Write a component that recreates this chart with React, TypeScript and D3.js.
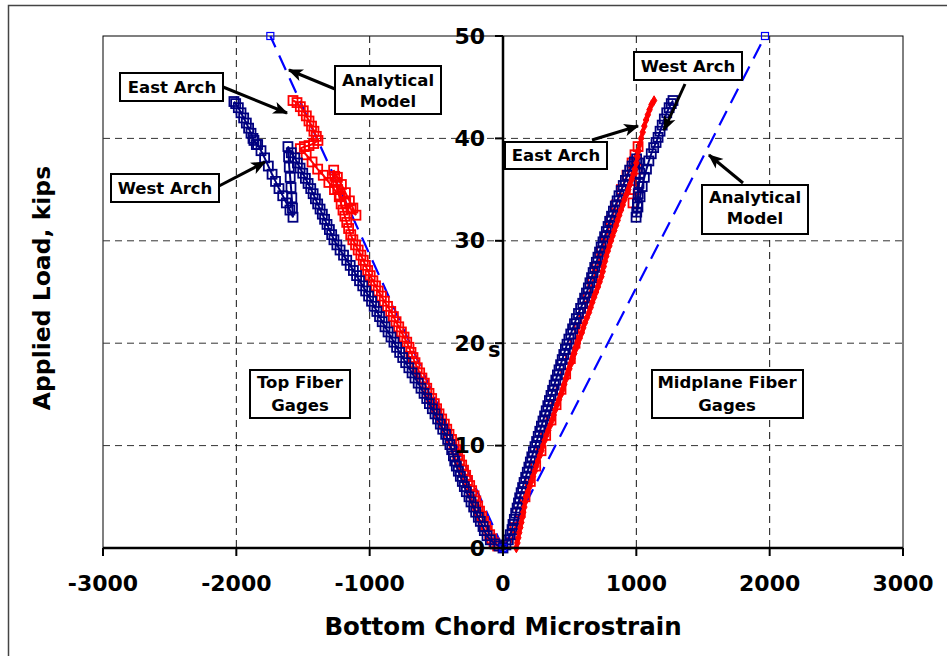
import React from "react";
import * as d3 from "d3";

// ---------- DATA ----------
const xTicks = [-3000, -2000, -1000, 0, 1000, 2000, 3000];
const yTicks = [0, 10, 20, 30, 40, 50];
const xGrid = [-2000, -1000, 1000, 2000];
const yGrid = [10, 20, 30, 40];

// Analytical model lines [microstrain, kips]
const analyticalTop: [number, number][] = [[0, 0], [-1745, 50]];
const analyticalMid: [number, number][] = [[0, 0], [1965, 50]];

// Top fiber gages - West Arch (navy)
const topWest: [number, number][] = [
  [-30,0.2],[-60,0.4],[-95,0.8],[-120,1.2],[-140,1.7],[-150,2.1],[-170,2.6],[-185,3.0],[-205,3.5],[-220,4.0],
  [-240,4.5],[-255,5.0],[-275,5.5],[-290,6.0],[-305,6.5],[-320,7.0],[-335,7.5],[-350,8.0],[-362,8.5],[-372,9.0],
  [-385,9.6],[-398,10.1],[-415,10.6],[-430,11.1],[-452,11.6],[-470,12.1],[-490,12.6],[-510,13.1],[-530,13.6],[-552,14.1],
  [-572,14.6],[-592,15.1],[-615,15.6],[-636,16.1],[-660,16.6],[-682,17.1],[-706,17.6],[-730,18.1],[-752,18.6],[-775,19.1],
  [-798,19.6],[-818,20.1],[-840,20.6],[-862,21.1],[-885,21.6],[-906,22.1],[-926,22.6],[-946,23.1],[-966,23.6],[-986,24.1],
  [-1008,24.6],[-1030,25.1],[-1052,25.6],[-1076,26.1],[-1098,26.6],[-1122,27.1],[-1146,27.6],[-1172,28.1],[-1196,28.6],[-1222,29.1],
  [-1246,29.6],[-1268,30.1],[-1285,30.6],[-1302,31.1],[-1320,31.6],[-1338,32.1],[-1355,32.6],[-1372,33.1],[-1390,33.6],[-1407,34.1],
  [-1424,34.6],[-1442,35.1],[-1462,35.6],[-1482,36.1],[-1502,36.6],[-1522,37.1],[-1542,37.6],[-1562,38.1],[-1588,38.6],[-1613,39.2],
  [-1608,38.2],[-1603,37.2],[-1596,36.2],[-1590,35.2],[-1584,34.2],[-1579,33.2],[-1575,32.3],[-1598,33.0],[-1625,33.7],[-1652,34.4],
  [-1680,35.1],[-1706,35.8],[-1732,36.5],[-1760,37.3],[-1788,38.1],[-1815,38.8],[-1840,39.4],[-1868,39.8],[-1850,39.4],[-1875,40.0],
  [-1890,40.5],[-1908,41.0],[-1925,41.5],[-1945,42.0],[-1965,42.5],[-1985,43.0],[-2005,43.4],[-2018,43.6],
];

// Top fiber gages - East Arch (red)
const topEast: [number, number][] = [
  [-40,0.2],[-67,0.5],[-85,0.9],[-100,1.3],[-118,1.7],[-130,2.1],[-146,2.6],[-160,3.1],[-176,3.6],[-190,4.1],
  [-204,4.6],[-217,5.1],[-235,5.6],[-250,6.1],[-266,6.6],[-280,7.1],[-296,7.6],[-310,8.1],[-326,8.6],[-340,9.1],
  [-354,9.6],[-367,10.1],[-386,10.6],[-405,11.1],[-422,11.6],[-440,12.1],[-460,12.6],[-480,13.1],[-498,13.6],[-515,14.1],
  [-535,14.6],[-555,15.1],[-572,15.6],[-590,16.1],[-608,16.6],[-625,17.1],[-643,17.6],[-660,18.1],[-675,18.6],[-690,19.1],
  [-705,19.6],[-722,20.1],[-742,20.6],[-762,21.1],[-782,21.6],[-802,22.1],[-822,22.6],[-842,23.1],[-866,23.6],[-890,24.1],
  [-912,24.6],[-936,25.1],[-956,25.6],[-976,26.1],[-996,26.6],[-1015,27.1],[-1032,27.6],[-1048,28.1],[-1066,28.6],[-1086,29.1],
  [-1106,29.6],[-1126,30.1],[-1142,30.6],[-1158,31.2],[-1172,31.8],[-1186,32.4],[-1200,33.0],[-1214,33.6],[-1228,34.3],[-1240,35.0],
  [-1252,35.7],[-1262,36.3],[-1270,36.9],[-1242,36.2],[-1212,35.5],[-1182,34.7],[-1152,33.9],[-1126,33.2],[-1103,32.5],[-1140,33.1],
  [-1180,33.7],[-1222,34.4],[-1264,35.0],[-1306,35.7],[-1348,36.4],[-1390,37.0],[-1432,37.7],[-1476,38.4],[-1520,39.0],[-1490,39.2],
  [-1455,39.3],[-1420,39.5],[-1388,39.8],[-1400,40.2],[-1418,40.7],[-1436,41.2],[-1455,41.7],[-1475,42.2],[-1498,42.7],[-1520,43.1],
  [-1545,43.5],[-1575,43.7],
];

// Midplane fiber gages - West Arch (navy)
const midWest: [number, number][] = [
  [0,0],[22,0.3],[40,0.8],[55,1.3],[68,1.8],[75,2.3],[85,2.8],[95,3.4],[106,3.9],[116,4.4],
  [125,4.9],[136,5.4],[147,5.9],[158,6.4],[170,6.9],[182,7.4],[194,7.9],[205,8.4],[216,8.9],[228,9.4],
  [240,9.9],[252,10.4],[264,10.9],[276,11.4],[288,11.9],[300,12.4],[312,12.9],[324,13.4],[336,13.9],[348,14.4],
  [360,14.9],[372,15.4],[384,15.9],[396,16.4],[408,16.9],[420,17.4],[432,17.9],[444,18.4],[456,18.9],[468,19.4],
  [480,19.9],[494,20.4],[508,20.9],[522,21.4],[536,21.9],[550,22.4],[566,22.9],[582,23.4],[598,23.9],[612,24.4],
  [626,24.9],[640,25.4],[652,25.9],[664,26.4],[676,26.9],[688,27.4],[700,27.9],[712,28.4],[724,28.9],[736,29.4],
  [750,29.9],[762,30.4],[775,30.9],[788,31.4],[800,31.9],[814,32.4],[828,32.9],[842,33.4],[856,33.9],[870,34.4],
  [886,34.9],[902,35.4],[918,35.9],[934,36.4],[950,36.9],[968,37.3],[985,37.7],[1002,38.0],[1018,37.6],[1025,36.6],
  [1020,35.6],[1014,34.6],[1008,33.6],[1003,32.8],[998,32.3],[1012,33.3],[1028,34.3],[1044,35.3],[1060,36.2],[1076,37.0],
  [1094,37.8],[1112,38.5],[1130,39.1],[1148,39.6],[1163,40.1],[1178,40.7],[1194,41.3],[1210,41.9],[1228,42.5],[1246,43.0],
  [1262,43.4],[1275,43.7],
];

// Midplane fiber gages - East Arch, square-marker gage (red)
const midEastSq: [number, number][] = [
  [60,0.5],[90,2.0],[130,3.5],[165,5.0],[205,6.5],[245,8.0],[285,9.5],[320,11.0],[360,12.5],[398,14.0],
  [435,15.5],[470,17.0],[505,18.5],[540,20.0],[572,21.5],[606,23.0],[640,24.5],[672,26.0],[706,27.5],[740,29.0],
  [776,30.5],[812,32.0],[850,33.5],[888,35.0],[930,36.4],[968,37.6],[990,38.4],[1013,39.2],[1005,37.0],[985,35.0],
  [975,33.7],
];

// Midplane fiber gages - East Arch, diamond-marker gage (red)
const midEast: [number, number][] = [
  [100,0],[108,0.5],[115,1.0],[122,1.5],[130,2.0],[138,2.5],[145,3.0],[152,3.5],[160,4.0],[166,4.5],
  [172,5.0],[186,5.5],[200,6.0],[212,6.5],[225,7.0],[238,7.5],[250,8.0],[262,8.5],[275,9.0],[288,9.5],
  [300,10.0],[312,10.5],[325,11.0],[340,11.5],[355,12.0],[368,12.5],[380,13.0],[392,13.5],[405,14.0],[420,14.5],
  [435,15.0],[448,15.5],[460,16.0],[472,16.5],[485,17.0],[498,17.5],[510,18.0],[522,18.5],[535,19.0],[548,19.5],
  [562,20.0],[576,20.5],[590,21.0],[602,21.5],[615,22.0],[630,22.5],[645,23.0],[658,23.5],[670,24.0],[684,24.5],
  [698,25.0],[712,25.5],[725,26.0],[738,26.5],[748,27.0],[756,27.5],[765,28.0],[775,28.5],[786,29.0],[798,29.5],
  [810,30.0],[822,30.5],[835,31.0],[848,31.5],[860,32.0],[872,32.5],[885,33.0],[898,33.5],[910,34.0],[925,34.5],
  [940,35.0],[952,35.5],[965,36.0],[978,36.5],[990,37.0],[1000,37.6],[1008,38.2],[1016,38.8],[1025,39.4],[1036,40.0],
  [1048,40.6],[1060,41.2],[1073,41.8],[1086,42.3],[1099,42.8],[1114,43.3],[1133,43.7],
];

// ---------- LAYOUT ----------
const W = 947;
const H = 656;
const x = d3.scaleLinear().domain([-3000, 3000]).range([103, 903]);
const y = d3.scaleLinear().domain([0, 50]).range([548, 36]);

const NAVY = "#000080";
const RED = "#FF0000";
const BLUE = "#0000FF";
const FONT = "'DejaVu Sans', Verdana, sans-serif";

const line = d3
  .line<[number, number]>()
  .x((d) => x(d[0]))
  .y((d) => y(d[1]));

type Box = { cx: number; x0: number; y0: number; x1: number; y1: number; lines: string[]; ly: number[] };
const boxes: Box[] = [
  { cx: 172, x0: 120, y0: 73, x1: 223, y1: 101, lines: ["East Arch"], ly: [87] },
  { cx: 388, x0: 335, y0: 66, x1: 441, y1: 114, lines: ["Analytical", "Model"], ly: [80, 101] },
  { cx: 165, x0: 111, y0: 174, x1: 219, y1: 202, lines: ["West Arch"], ly: [188] },
  { cx: 688, x0: 634, y0: 52, x1: 742, y1: 80, lines: ["West Arch"], ly: [66] },
  { cx: 556, x0: 505, y0: 142, x1: 607, y1: 169, lines: ["East Arch"], ly: [155] },
  { cx: 755, x0: 702, y0: 185, x1: 808, y1: 234, lines: ["Analytical", "Model"], ly: [197, 218] },
  { cx: 300, x0: 250, y0: 370, x1: 350, y1: 418, lines: ["Top Fiber", "Gages"], ly: [382, 405] },
  { cx: 727, x0: 652, y0: 370, x1: 803, y1: 418, lines: ["Midplane Fiber", "Gages"], ly: [382, 405] },
];

const arrows: [number, number, number, number][] = [
  [223, 87, 287, 113],
  [335, 89, 289, 70],
  [219, 186, 265, 162],
  [685, 84, 664, 130],
  [592, 140, 638, 126],
  [743, 183, 709, 155],
];

function Squares({ data, color, size = 9 }: { data: [number, number][]; color: string; size?: number }) {
  return (
    <g>
      {data.map((d, i) => (
        <rect
          key={i}
          x={x(d[0]) - size / 2}
          y={y(d[1]) - size / 2}
          width={size}
          height={size}
          fill="none"
          stroke={color}
          strokeWidth={1.8}
        />
      ))}
    </g>
  );
}

function Diamonds({ data, color }: { data: [number, number][]; color: string }) {
  const sym = d3.symbol().type(d3.symbolDiamond).size(26)();
  return (
    <g>
      {data.map((d, i) => (
        <path key={i} d={sym || ""} transform={`translate(${x(d[0])},${y(d[1])})`} fill={color} stroke={color} strokeWidth={1} />
      ))}
    </g>
  );
}

export default function App() {
  return (
    <svg
      width={W}
      height={H}
      style={{ position: "absolute", left: 0, top: 0, background: "#fff" }}
      fontFamily={FONT}
    >
      <defs>
        <marker id="arr" viewBox="0 0 12 10" refX="11" refY="5" markerWidth="5" markerHeight="4.5" orient="auto" markerUnits="strokeWidth">
          <path d="M0,0 L12,5 L0,10 L3,5 z" fill="#000" />
        </marker>
      </defs>
      {/* outer frame */}
      <rect x={8.5} y={5.5} width={1100} height={800} fill="#fff" stroke="#444" strokeWidth={1.5} />

      {/* plot area */}
      <rect x={103} y={36} width={800} height={512} fill="#fff" stroke="#000" strokeWidth={1} />

      {/* gridlines */}
      {yGrid.map((v) => (
        <line key={"gy" + v} x1={103} x2={903} y1={y(v)} y2={y(v)} stroke="#333" strokeWidth={1} strokeDasharray="7,5" />
      ))}
      {xGrid.map((v) => (
        <line key={"gx" + v} x1={x(v)} x2={x(v)} y1={36} y2={548} stroke="#111" strokeWidth={1} strokeDasharray="7,5" />
      ))}

      {/* Analytical lines */}
      <path d={line(analyticalTop) || ""} fill="none" stroke={BLUE} strokeWidth={2.2} strokeDasharray="16,9" />
      <path d={line(analyticalMid) || ""} fill="none" stroke={BLUE} strokeWidth={2.2} strokeDasharray="16,9" />

      {/* Top fiber */}
      <path d={line(topEast) || ""} fill="none" stroke={RED} strokeWidth={2} />
      <Squares data={topEast} color={RED} />
      <path d={line(topWest) || ""} fill="none" stroke={NAVY} strokeWidth={2} />
      <Squares data={topWest} color={NAVY} />

      {/* Midplane */}
      <path d={line(midEastSq) || ""} fill="none" stroke={RED} strokeWidth={2} />
      <Squares data={midEastSq} color={RED} />
      <path d={line(midWest) || ""} fill="none" stroke={NAVY} strokeWidth={2} />
      <Squares data={midWest} color={NAVY} />
      <path d={line(midEast) || ""} fill="none" stroke={RED} strokeWidth={2.5} />
      <Diamonds data={midEast} color={RED} />

      {/* analytical markers */}
      {[analyticalTop, analyticalMid].map((s, k) =>
        s.map((d, i) => (
          <rect key={`am${k}-${i}`} x={x(d[0]) - 3.5} y={y(d[1]) - 3.5} width={7} height={7} fill="none" stroke={BLUE} strokeWidth={1.2} />
        ))
      )}

      {/* axes */}
      <line x1={103} x2={903} y1={548} y2={548} stroke="#000" strokeWidth={2.5} />
      {xTicks.map((v) => (
        <line key={"xt" + v} x1={x(v)} x2={x(v)} y1={548} y2={556} stroke="#000" strokeWidth={2} />
      ))}
      <line x1={x(0)} x2={x(0)} y1={36} y2={548} stroke="#000" strokeWidth={2.5} />
      {yTicks.map((v) => (
        <line key={"yt" + v} x1={x(0) - 8} x2={x(0)} y1={y(v)} y2={y(v)} stroke="#000" strokeWidth={2} />
      ))}

      {/* tick labels */}
      {xTicks.map((v) => (
        <text key={"xl" + v} x={x(v)} y={583} textAnchor="middle" dominantBaseline="central" fontSize={22} fontWeight="bold">
          {v}
        </text>
      ))}
      {yTicks.map((v) => (
        <text key={"yl" + v} x={485} y={y(v)} textAnchor="end" dominantBaseline="central" fontSize={22} fontWeight="bold">
          {v}
        </text>
      ))}
      <text x={488} y={357} fontSize={21} fontWeight="bold">s</text>

      {/* axis titles */}
      <text x={503} y={626} textAnchor="middle" dominantBaseline="central" fontSize={24.5} fontWeight="bold">
        Bottom Chord Microstrain
      </text>
      <text
        transform="translate(42,288) rotate(-90)"
        textAnchor="middle"
        dominantBaseline="central"
        fontSize={23.5}
        fontWeight="bold"
      >
        Applied Load, kips
      </text>

      {/* annotation arrows */}
      {arrows.map((a, i) => (
        <line key={"ar" + i} x1={a[0]} y1={a[1]} x2={a[2]} y2={a[3]} stroke="#000" strokeWidth={3} markerEnd="url(#arr)" />
      ))}

      {/* annotation boxes */}
      {boxes.map((b, i) => (
        <g key={"bx" + i}>
          <rect x={b.x0} y={b.y0} width={b.x1 - b.x0} height={b.y1 - b.y0} fill="#fff" stroke="#000" strokeWidth={2} />
          {b.lines.map((t, j) => (
            <text key={j} x={b.cx} y={b.ly[j]} textAnchor="middle" dominantBaseline="central" fontSize={16.5} fontWeight="bold">
              {t}
            </text>
          ))}
        </g>
      ))}
    </svg>
  );
}
